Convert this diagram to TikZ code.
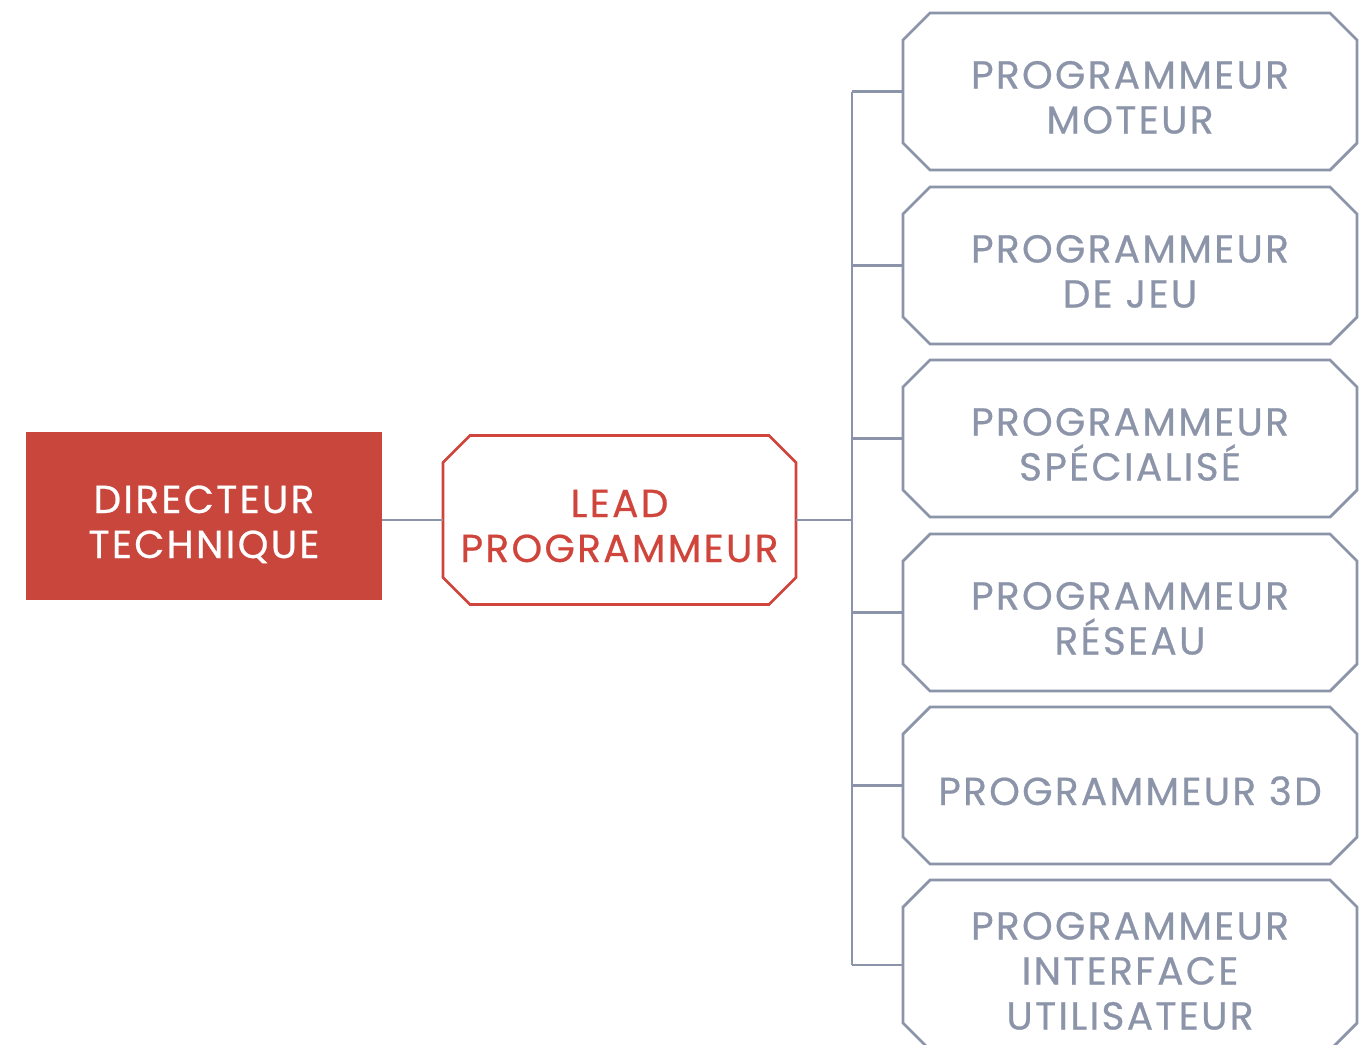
\documentclass[tikz,border=0pt]{standalone}
\usepackage{fontspec}
\setmainfont{Poppins}[LetterSpace=6,FakeBold=0.6]
\usetikzlibrary{shapes.misc}
\definecolor{chefred}{HTML}{C9463D}
\definecolor{leadred}{HTML}{D0453B}
\definecolor{staffgray}{HTML}{8B94A8}
% centred lines on a fixed 22.5pt pitch, set a little low in the box
\newcommand\rolelabel[1]{{\setbox\strutbox\hbox{\vrule height19pt depth3.5pt width0pt}%
  \raisebox{-2pt}[\height][\depth]{\begin{tabular}{@{}c@{}}#1\end{tabular}}}}
\begin{document}
\begin{tikzpicture}[x=0.5pt,y=-0.5pt,
  every node/.style={inner sep=0pt, outer sep=0pt, font=\fontsize{19.5}{22.5}\selectfont},
  chef/.style={fill=chefred, text=white, minimum width=178pt, minimum height=84pt},
  lead/.style={chamfered rectangle, chamfered rectangle xsep=6.75pt, chamfered rectangle ysep=6.75pt,
    draw=leadred, line width=1.4pt, text=leadred, minimum width=176.5pt, minimum height=84.5pt},
  staff/.style={chamfered rectangle, chamfered rectangle xsep=6.75pt, chamfered rectangle ysep=6.75pt,
    draw=staffgray, line width=1.4pt, text=staffgray, minimum width=227pt, minimum height=78.5pt},
  link/.style={draw=staffgray, line width=1.4pt}]
\useasboundingbox (0,0) rectangle (1370,1044);
\node[chef] (dt) at (204,516) {\rolelabel{DIRECTEUR\\TECHNIQUE}};
\node[lead] (lp) at (619.5,520) {\rolelabel{LEAD\\PROGRAMMEUR}};
\node[staff] (p1) at (1130,91.5) {\rolelabel{PROGRAMMEUR\\MOTEUR}};
\node[staff] (p2) at (1130,265.5) {\rolelabel{PROGRAMMEUR\\DE JEU}};
\node[staff] (p3) at (1130,438.5) {\rolelabel{PROGRAMMEUR\\SPÉCIALISÉ}};
\node[staff] (p4) at (1130,612.5) {\rolelabel{PROGRAMMEUR\\RÉSEAU}};
\node[staff] (p5) at (1130,785.5) {\rolelabel{PROGRAMMEUR 3D}};
\node[staff, minimum height=85pt] (p6) at (1130,965) {\rolelabel{PROGRAMMEUR\\INTERFACE\\UTILISATEUR}};
\coordinate (bus) at (852,520);
% links
\draw[link] (dt.east |- lp.west) -- (lp.west);
\draw[link] (lp.east) -- (lp.east -| bus);
\draw[link] (bus |- p1.west) -- (bus |- p6.west);
\foreach \i in {1,...,6}
  \draw[link] (bus |- p\i.west) -- (p\i.west);
\end{tikzpicture}
\end{document}
